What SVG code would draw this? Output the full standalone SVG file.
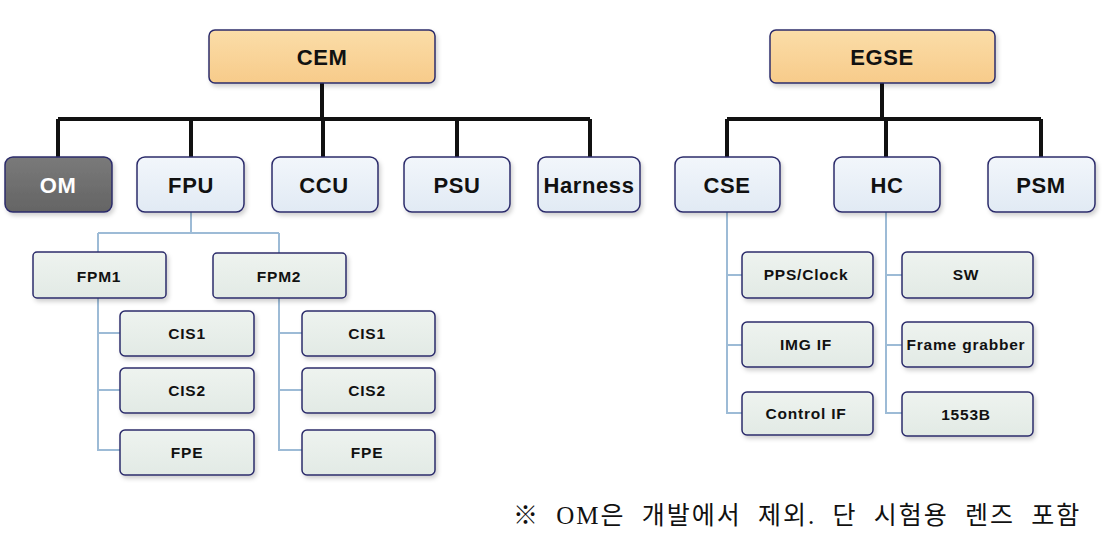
<svg xmlns="http://www.w3.org/2000/svg" width="1111" height="539" viewBox="0 0 1111 539">
<defs>
<linearGradient id="gOr" x1="0" y1="0" x2="0" y2="1"><stop offset="0" stop-color="#FBDDA8"/><stop offset="1" stop-color="#F7CB8A"/></linearGradient>
<linearGradient id="gBl" x1="0" y1="0" x2="0" y2="1"><stop offset="0" stop-color="#F2F6FB"/><stop offset="1" stop-color="#E1EAF4"/></linearGradient>
<linearGradient id="gGr" x1="0" y1="0" x2="0" y2="1"><stop offset="0" stop-color="#EEF3EF"/><stop offset="1" stop-color="#E2EAE5"/></linearGradient>
<linearGradient id="gOM" x1="0" y1="0" x2="0" y2="1"><stop offset="0" stop-color="#7a7a7a"/><stop offset="1" stop-color="#646464"/></linearGradient>
<filter id="sh" x="-10%" y="-10%" width="125%" height="135%"><feDropShadow dx="2" dy="3" stdDeviation="2" flood-color="#000" flood-opacity="0.18"/></filter>
</defs>
<style>
.top{fill:url(#gOr);stroke:#2b2b6b;stroke-width:1.5;filter:url(#sh)}
.l2{fill:url(#gBl);stroke:#2b2b6b;stroke-width:1.5;filter:url(#sh)}
.om{fill:url(#gOM);stroke:#2b2b6b;stroke-width:1.5;filter:url(#sh)}
.l3{fill:url(#gGr);stroke:#2b2b6b;stroke-width:1.5;filter:url(#sh)}
.t1{font-family:"Liberation Sans",Arial,sans-serif;font-weight:bold;font-size:22px;letter-spacing:0.6px;fill:#111;text-anchor:middle;dominant-baseline:central}
.t2{font-family:"Liberation Sans",Arial,sans-serif;font-weight:bold;font-size:15.5px;letter-spacing:0.8px;fill:#111;text-anchor:middle;dominant-baseline:central}
.k{stroke:#111;stroke-width:4;fill:none}
.b{stroke:#9DBBD6;stroke-width:2;fill:none}
.note{font-family:"Liberation Serif","Noto Sans CJK KR",serif;font-size:25px;letter-spacing:2px;word-spacing:8px;fill:#111}
</style>
<g id="connectors">
<path class="k" d="M322 83V119M58 119H590M58 119V157M191 119V157M323 119V157M457 119V157M590 119V157"/>
<path class="k" d="M882 83V119M727 119H1041M727 119V157M886 119V157M1041 119V157"/>
<path class="b" d="M191 212V233M98 233H279M98 233V252M279 233V253"/>
<path class="b" d="M98 298V450H120M98 333H120M98 390H120"/>
<path class="b" d="M279 298V450H302M279 333H302M279 390H302"/>
<path class="b" d="M727 212V413H742M727 275H742M727 345H742"/>
<path class="b" d="M886 212V413H902M886 275H902M886 345H902"/>
</g>
<g id="CEM"><rect class="top" x="209" y="30" width="226" height="53" rx="6"/><text class="t1" x="322" y="57">CEM</text></g>
<g id="EGSE"><rect class="top" x="770" y="30" width="225" height="53" rx="6"/><text class="t1" x="882" y="57">EGSE</text></g>
<g id="OM"><rect class="om" x="5" y="157" width="107" height="55" rx="8"/><text class="t1" x="58" y="185" style="fill:#fff">OM</text></g>
<g id="FPU"><rect class="l2" x="137" y="157" width="107" height="55" rx="8"/><text class="t1" x="191" y="185">FPU</text></g>
<g id="CCU"><rect class="l2" x="272" y="157" width="106" height="55" rx="8"/><text class="t1" x="324" y="185">CCU</text></g>
<g id="PSU"><rect class="l2" x="404" y="157" width="106" height="55" rx="8"/><text class="t1" x="457" y="185">PSU</text></g>
<g id="Harness"><rect class="l2" x="538" y="157" width="102" height="55" rx="8"/><text class="t1" x="589" y="185">Harness</text></g>
<g id="CSE"><rect class="l2" x="675" y="157" width="105" height="55" rx="8"/><text class="t1" x="727" y="185">CSE</text></g>
<g id="HC"><rect class="l2" x="834" y="157" width="106" height="55" rx="8"/><text class="t1" x="887" y="185">HC</text></g>
<g id="PSM"><rect class="l2" x="988" y="157" width="107" height="55" rx="8"/><text class="t1" x="1041" y="185">PSM</text></g>
<g id="FPM1"><rect class="l3" x="33" y="252" width="133" height="46" rx="4"/><text class="t2" x="99" y="276">FPM1</text></g>
<g id="FPM2"><rect class="l3" x="213" y="253" width="133" height="45" rx="4"/><text class="t2" x="279" y="276">FPM2</text></g>
<g id="CIS1a"><rect class="l3" x="120" y="311" width="134" height="45" rx="5"/><text class="t2" x="187" y="333">CIS1</text></g>
<g id="CIS2a"><rect class="l3" x="120" y="368" width="134" height="45" rx="5"/><text class="t2" x="187" y="390">CIS2</text></g>
<g id="FPEa"><rect class="l3" x="120" y="430" width="134" height="45" rx="5"/><text class="t2" x="187" y="452">FPE</text></g>
<g id="CIS1b"><rect class="l3" x="302" y="311" width="133" height="45" rx="5"/><text class="t2" x="367" y="333">CIS1</text></g>
<g id="CIS2b"><rect class="l3" x="302" y="368" width="133" height="45" rx="5"/><text class="t2" x="367" y="390">CIS2</text></g>
<g id="FPEb"><rect class="l3" x="302" y="430" width="133" height="45" rx="5"/><text class="t2" x="367" y="452">FPE</text></g>
<g id="PPSClock"><rect class="l3" x="742" y="252" width="131" height="46" rx="5"/><text class="t2" x="806" y="274">PPS/Clock</text></g>
<g id="IMGIF"><rect class="l3" x="742" y="322" width="131" height="45" rx="5"/><text class="t2" x="806" y="344">IMG IF</text></g>
<g id="ControlIF"><rect class="l3" x="742" y="392" width="131" height="43" rx="5"/><text class="t2" x="806" y="413">Control IF</text></g>
<g id="SW"><rect class="l3" x="902" y="252" width="131" height="46" rx="5"/><text class="t2" x="966" y="274">SW</text></g>
<g id="Framegrabber"><rect class="l3" x="902" y="322" width="131" height="45" rx="5"/><text class="t2" x="966" y="344">Frame grabber</text></g>
<g id="B1553"><rect class="l3" x="902" y="392" width="131" height="44" rx="5"/><text class="t2" x="966" y="414">1553B</text></g>
<text class="note" x="513" y="524">※ OM은 개발에서 제외. 단 시험용 렌즈 포함</text>
</svg>
